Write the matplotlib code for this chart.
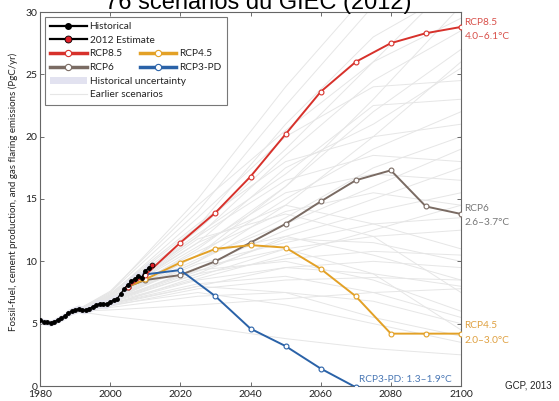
import matplotlib
matplotlib.use("Agg")
import matplotlib.pyplot as plt
from matplotlib.lines import Line2D
from matplotlib.patches import Patch
import numpy as np

plt.rcParams['font.family'] = ['Lato', 'DejaVu Sans']

# ---------------- data ----------------
hist_years = list(range(1980, 2012))
hist_values = [5.3, 5.15, 5.1, 5.05, 5.15, 5.3, 5.45, 5.6, 5.85, 6.0,
               6.1, 6.2, 6.1, 6.1, 6.2, 6.35, 6.5, 6.6, 6.6, 6.55,
               6.75, 6.9, 7.0, 7.4, 7.8, 8.1, 8.4, 8.6, 8.8, 8.7,
               9.2, 9.5]
hist_uncertainty = 0.05  # relative
est_year = 2012
est_value = 9.7

rcp_years = [2005, 2010, 2020, 2030, 2040, 2050, 2060, 2070, 2080, 2090, 2100]
rcp85 = [7.97, 8.9, 11.5, 13.9, 16.8, 20.2, 23.6, 26.0, 27.5, 28.3, 28.8]
rcp6 = [7.97, 8.5, 8.9, 10.0, 11.5, 13.0, 14.8, 16.5, 17.3, 14.4, 13.8]
rcp45 = [7.97, 8.55, 9.9, 11.0, 11.3, 11.1, 9.4, 7.2, 4.2, 4.2, 4.2]
rcp3pd_years = [2005, 2010, 2020, 2030, 2040, 2050, 2060, 2070]
rcp3pd = [7.97, 8.95, 9.3, 7.2, 4.6, 3.2, 1.4, -0.1]

scen_years = [1990, 2000, 2025, 2050, 2075, 2100]
earlier_scenarios = [
    [6.0, 6.9, 11.0, 16.0, 23.0, 30.5],
    [6.0, 7.2, 12.5, 19.0, 26.0, 33.0],
    [6.0, 7.5, 14.0, 22.5, 30.5, 37.0],
    [6.0, 7.0, 11.5, 17.5, 21.0, 25.5],
    [6.0, 6.8, 10.5, 15.0, 19.0, 22.0],
    [6.0, 6.9, 10.0, 13.5, 17.5, 20.0],
    [6.0, 7.1, 10.8, 14.0, 15.5, 14.5],
    [6.0, 7.3, 12.0, 16.5, 18.5, 18.0],
    [6.0, 6.7, 9.5, 12.5, 15.0, 17.5],
    [6.0, 6.9, 9.8, 11.5, 13.0, 13.5],
    [6.0, 6.5, 8.8, 11.0, 12.0, 12.5],
    [6.0, 6.8, 9.0, 10.2, 10.8, 10.5],
    [6.0, 6.6, 8.5, 9.5, 9.0, 8.0],
    [6.0, 6.9, 9.3, 10.0, 8.5, 6.0],
    [6.0, 6.4, 7.8, 8.5, 8.7, 8.5],
    [6.0, 6.6, 8.2, 8.8, 7.5, 5.5],
    [6.0, 6.3, 7.2, 7.5, 6.8, 5.0],
    [6.0, 6.1, 6.5, 7.0, 7.5, 7.8],
    [6.0, 5.6, 4.8, 3.8, 3.0, 2.5],
    [6.0, 6.5, 7.5, 6.5, 5.0, 3.5],
    [6.0, 7.0, 10.5, 12.0, 10.5, 8.5],
    [6.0, 7.2, 11.5, 14.5, 13.0, 11.0],
    [6.0, 7.4, 13.0, 18.0, 20.0, 21.0],
    [6.0, 7.0, 12.0, 18.5, 24.5, 28.5],
    [6.0, 7.6, 14.5, 20.5, 26.0, 29.5],
    [6.0, 6.8, 10.0, 14.5, 20.0, 26.0],
    [6.0, 6.9, 10.5, 16.0, 22.0, 27.0],
    [6.0, 7.3, 13.5, 20.0, 24.0, 24.5],
    [6.0, 7.1, 11.2, 15.5, 17.0, 16.5],
    [6.0, 6.7, 9.0, 12.0, 14.0, 15.5],
    [6.0, 6.5, 8.0, 9.5, 10.0, 9.5],
    [6.0, 6.7, 8.6, 10.5, 12.5, 14.5],
    [6.0, 7.2, 12.2, 17.0, 22.5, 23.0],
    [6.0, 7.0, 11.8, 13.8, 12.0, 7.5],
    [6.0, 6.8, 9.5, 11.0, 9.0, 4.5],
    [6.0, 6.6, 8.0, 7.5, 5.5, 4.0],
    [6.0, 6.9, 10.2, 13.0, 16.0, 19.0],
    [6.0, 7.5, 15.0, 24.0, 32.0, 36.0],
    [6.0, 7.3, 12.8, 21.0, 28.0, 32.0],
    [6.0, 6.8, 9.2, 11.8, 11.5, 10.0],
]

c85 = '#d7312b'
c6 = '#7a6b63'
c45 = '#e3a126'
c3 = '#2a62a8'
cgray = '#e6e6e6'

# ---------------- figure ----------------
fig = plt.figure(figsize=(5.59, 4.01), dpi=100)
ax = fig.add_axes([40/559, 1-386/401, 421/559, 374/401])

for s in earlier_scenarios:
    ax.plot(scen_years, s, color=cgray, lw=0.7, zorder=1)

h = np.array(hist_values)
ax.fill_between(hist_years, h*(1-hist_uncertainty), h*(1+hist_uncertainty),
                color='#e4e4ee', lw=0, zorder=2)

mk = dict(marker='o', ms=3.5, mfc='white', mew=0.8)
ax.plot(rcp_years, rcp6, color=c6, lw=1.4, mec=c6, zorder=3, **mk)
ax.plot(rcp_years, rcp45, color=c45, lw=1.4, mec=c45, zorder=3, **mk)
ax.plot(rcp3pd_years, rcp3pd, color=c3, lw=1.4, mec=c3, zorder=3, **mk)
ax.plot(rcp_years, rcp85, color=c85, lw=1.4, mec=c85, zorder=3, **mk)

ax.plot(hist_years, hist_values, color='black', lw=1.0, marker='o', ms=2.5,
        mfc='black', mec='black', zorder=5)
ax.plot([hist_years[-1], est_year], [hist_values[-1], est_value], color='black', lw=1.0, zorder=5)
ax.plot([est_year], [est_value], marker='o', ms=3.5, mfc='#e0202a', mec='black', mew=0.6, zorder=6)

ax.set_xlim(1980, 2100)
ax.set_ylim(0, 30)
ax.set_xticks([1980, 2000, 2020, 2040, 2060, 2080, 2100])
ax.set_yticks([0, 5, 10, 15, 20, 25, 30])
ax.tick_params(direction='in', top=True, right=True, length=3, width=0.6,
               color='#555555', labelsize=7.5, pad=2, labelcolor='#222222')
ax.tick_params(axis='x', pad=3)
for sp in ax.spines.values():
    sp.set_color('#666666')
    sp.set_linewidth(0.8)
ax.set_ylabel('Fossil-fuel, cement production, and gas flaring emissions (PgC/yr)',
              fontsize=7, color='#222222', labelpad=3)
ax.yaxis.set_label_coords(-0.052, (386-192)/374)

# right-side labels
tr = ax.get_yaxis_transform()
ax.text(1.008, 28.6, 'RCP8.5\n4.0–6.1°C', transform=tr,
        color='#d8504a', fontsize=7.3, va='center', ha='left', linespacing=1.75)
ax.text(1.008, 13.7, 'RCP6\n2.6–3.7°C', transform=tr,
        color='#777777', fontsize=7.3, va='center', ha='left', linespacing=1.75)
ax.text(1.008, 4.25, 'RCP4.5\n2.0–3.0°C', transform=tr,
        color='#dfa040', fontsize=7.3, va='center', ha='left', linespacing=1.75)
ax.text(2097.5, 0.5, 'RCP3-PD: 1.3–1.9°C', color='#4a78b5', fontsize=7.3,
        ha='right', va='center', zorder=7)

fig.text(505/559, 1-386/401, 'GCP, 2013', fontsize=7, family='Liberation Sans',
         color='#222222', ha='left', va='center')
fig.text(258/559, 1-9/401, '76 scenarios du GIEC (2012)', fontsize=17,
         family='Liberation Sans', color='black', ha='center', va='baseline')

# legend
blank = Line2D([], [], linestyle='none', marker=None)
lmk = dict(marker='o', ms=4.5, mfc='white', mew=0.8)
handles = [
    Line2D([], [], color='black', lw=1.6, marker='o', ms=4, mfc='black', mec='black'),
    Line2D([], [], color='black', lw=1.6, marker='o', ms=5, mfc='#e0202a', mec='black', mew=0.6),
    Line2D([], [], color=c85, lw=2.5, mec=c85, **lmk),
    Line2D([], [], color=c6, lw=2.5, mec=c6, **lmk),
    Patch(facecolor='#e2e2f0', edgecolor='none'),
    Line2D([], [], color=cgray, lw=0.8),
    blank, blank,
    Line2D([], [], color=c45, lw=2.5, mec=c45, **lmk),
    Line2D([], [], color=c3, lw=2.5, mec=c3, **lmk),
    blank, blank,
]
labels = ['Historical', '2012 Estimate', 'RCP8.5', 'RCP6', 'Historical uncertainty',
          'Earlier scenarios', ' ', ' ', 'RCP4.5', 'RCP3-PD', ' ', ' ']
leg = ax.legend(handles, labels, ncol=2, loc='upper left',
                bbox_to_anchor=(5/421, 1-5/374), borderaxespad=0,
                fontsize=7.3, handlelength=3.6, handletextpad=0.3,
                labelspacing=0.45, columnspacing=-4.5, borderpad=0.5,
                fancybox=False, framealpha=1, edgecolor='#777777')
leg.get_frame().set_linewidth(0.8)
leg.set_zorder(10)
for t in leg.get_texts():
    t.set_color('#222222')

fig.savefig('out.png', dpi=100)
